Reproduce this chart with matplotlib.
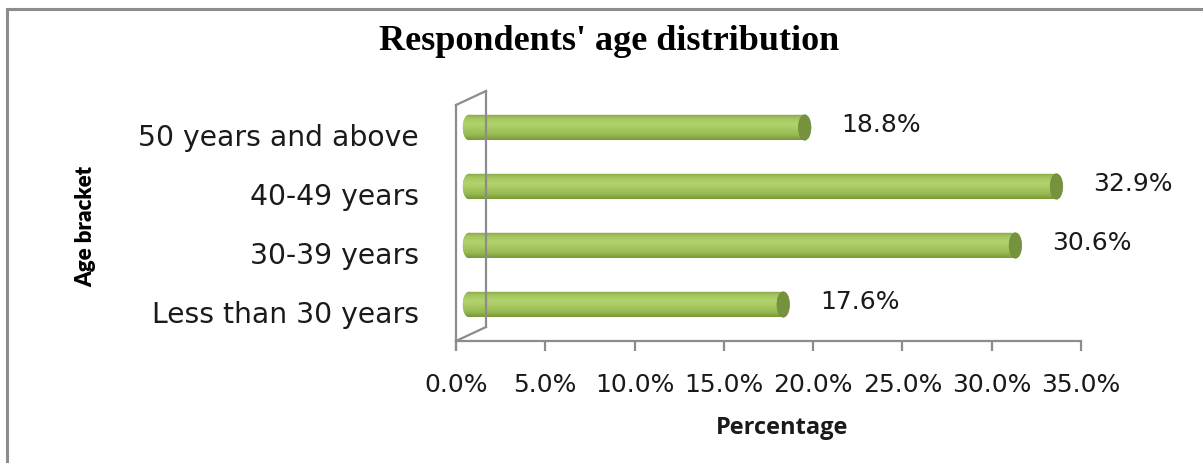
import matplotlib
matplotlib.use("Agg")
import matplotlib.pyplot as plt
import numpy as np
from matplotlib.patches import Ellipse, PathPatch
from matplotlib.path import Path
from matplotlib.lines import Line2D
from matplotlib.colors import LinearSegmentedColormap
import matplotlib.transforms as mtrans

# ---- data ----
categories = ["Less than 30 years", "30-39 years", "40-49 years", "50 years and above"]
values = [17.6, 30.6, 32.9, 18.8]
value_labels = ["17.6%", "30.6%", "32.9%", "18.8%"]
xticks = [0, 5, 10, 15, 20, 25, 30, 35]
xtick_labels = ["0.0%", "5.0%", "10.0%", "15.0%", "20.0%", "25.0%", "30.0%", "35.0%"]
title = "Respondents' age distribution"
xlabel = "Percentage"
ylabel = "Age bracket"

W, H = 1203, 464
DPI = 100
fig = plt.figure(figsize=(W / DPI, H / DPI), dpi=DPI)
fig.patch.set_facecolor("white")
pt = 72.0 / DPI

def fx(px):
    return px / W

def fy(py):
    return 1 - py / H

# axes: front plot area 456..1081 (x), 106..342 (y)
ax_l, ax_r, ax_t, ax_b = 456, 1081, 106, 342
ax = fig.add_axes([fx(ax_l), fy(ax_b), (ax_r - ax_l) / W, (ax_b - ax_t) / H])
ax.set_facecolor("none")
for s in ax.spines.values():
    s.set_visible(False)

gray = "#8c8c8c"
dx, dy = 30, 14  # 3D depth offset (pixels)

wall_lines = [
    [(ax_l, ax_t), (ax_l, ax_b + 8)],
    [(ax_l + dx, ax_t - dy), (ax_l + dx, ax_b - dy)],
    [(ax_l, ax_t), (ax_l + dx, ax_t - dy)],
    [(ax_l, ax_b), (ax_l + dx, ax_b - dy)],
    [(ax_l, ax_b), (ax_r, ax_b)],
]
for seg in wall_lines:
    fig.add_artist(Line2D([fx(p[0]) for p in seg], [fy(p[1]) for p in seg],
                          transform=fig.transFigure, color=gray, lw=1.6))

ax.set_xticks(xticks)
ax.set_xticklabels(xtick_labels, fontsize=18, family="DejaVu Sans", color="#1a1a1a")
ax.tick_params(axis="x", length=7, width=1.6, color=gray, pad=15)
ax.set_yticks(range(len(categories)))
ax.set_yticklabels(categories, fontsize=20.3, family="DejaVu Sans", color="#1a1a1a")
ax.tick_params(axis="y", length=0, pad=27)

# bars with 3D offset (half depth)
off = mtrans.ScaledTranslation(13 / DPI, 7 / DPI, fig.dpi_scale_trans)
btrans = ax.transData + off
bar_h = 0.43
cap_w = 0.7

cmap = LinearSegmentedColormap.from_list(
    "cyl", [(0.0, "#7a973a"), (0.2, "#98ba52"), (0.6, "#b2d36c"), (0.85, "#a3c55f"), (1.0, "#86a544")])
gimg = np.linspace(0, 1, 64).reshape(-1, 1)

for i, v in enumerate(values):
    bars = ax.barh(i, v, height=bar_h, color="#9bbb59", edgecolor="none", transform=btrans, zorder=2)
    rect = bars[0]
    le = Ellipse((0, i), cap_w, bar_h, transform=btrans, facecolor="#95b656", edgecolor="none", zorder=2)
    ax.add_patch(le)
    im = ax.imshow(gimg, cmap=cmap, aspect="auto", origin="lower",
                   extent=(-cap_w / 2, v, i - bar_h / 2, i + bar_h / 2),
                   transform=btrans, zorder=3, interpolation="bilinear")
    clip = PathPatch(Path.make_compound_path(rect.get_path().transformed(rect.get_patch_transform()),
                                             le.get_path().transformed(le.get_patch_transform())),
                     transform=btrans, facecolor="none", edgecolor="none")
    ax.add_patch(clip)
    im.set_clip_path(clip)
    re = Ellipse((v, i), cap_w, bar_h, transform=btrans, facecolor="#76923c",
                 edgecolor="#6f8a38", lw=0.5, zorder=4)
    ax.add_patch(re)
    ax.annotate(value_labels[i], (v, i), xycoords=btrans, xytext=(37 * pt, 3 * pt),
                textcoords="offset points", ha="left", va="center", fontsize=18,
                family="DejaVu Sans", color="#1a1a1a")

ax.set_xlim(0, 35)
ax.set_ylim(-0.5, len(categories) - 0.5)

fig.text(fx(609), fy(42), title, ha="center", va="center", fontsize=26,
         family="Liberation Serif", weight="bold", color="black")
fig.text(fx(782), fy(428), xlabel, ha="center", va="center", fontsize=17,
         family="Open Sans", weight="bold", color="#1a1a1a")
fig.text(fx(86), fy(226), ylabel, ha="center", va="center", fontsize=16, rotation=90,
         family="Lato", weight="heavy", color="black")

fig.add_artist(Line2D([fx(7), fx(W + 5)], [fy(10), fy(10)], transform=fig.transFigure, color=gray, lw=2.2))
fig.add_artist(Line2D([fx(7), fx(7)], [fy(10), fy(H + 5)], transform=fig.transFigure, color=gray, lw=2.2))

fig.savefig("out.png", dpi=DPI, facecolor="white")
